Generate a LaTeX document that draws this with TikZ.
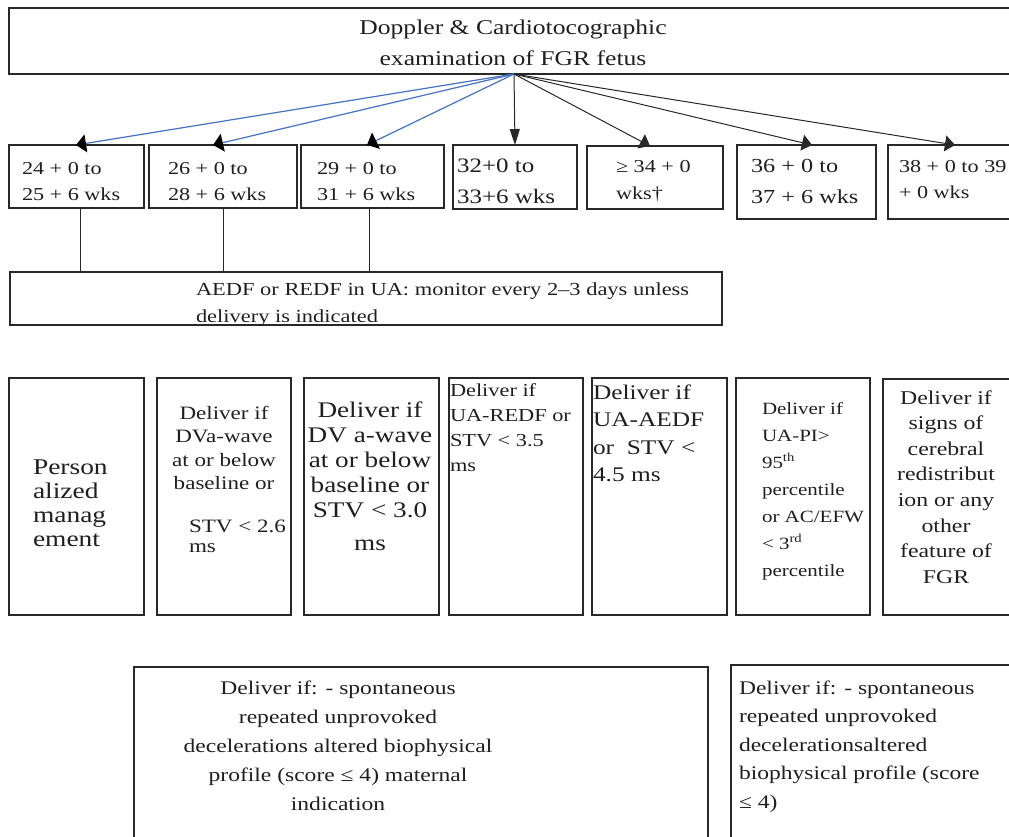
\documentclass[tikz,border=0pt]{standalone}
\usepackage{fontspec}
\setmainfont{Liberation Serif}[FakeStretch=1.22]
\usetikzlibrary{arrows.meta}
\definecolor{lnblue}{RGB}{68,114,196}
\definecolor{bord}{RGB}{40,40,40}
\newcommand\fl[1]{\rule{0pt}{#1pt}}
\begin{document}
\begin{tikzpicture}[x=1pt,y=-1pt,
  box/.style={draw=bord, line width=1.1pt, inner sep=0pt, outer sep=0pt, anchor=north west},
  tx/.style={inner sep=0pt, outer sep=0pt, text=black!88},
  fs/.style 2 args={font=\fontsize{#1pt}{#2pt}\selectfont},
  conn/.style={draw=bord, line width=1pt},
  arrK/.style={draw=bord, line width=1pt, -{Triangle[length=10pt,width=16pt]}},
  arrV/.style={draw=bord, line width=1pt, -{Triangle[length=16pt,width=10pt]}},
  arrB/.style={draw=lnblue, line width=1.2pt, -{Triangle[length=10pt,width=18pt,color=black]}}]
\useasboundingbox (0,0) rectangle (1009,836);
% boxes
\node[box, minimum width=1005pt, minimum height=66pt] (top) at (9,8) {};
\node[box, minimum width=135pt, minimum height=63pt] (b1) at (9,145) {};
\node[box, minimum width=148pt, minimum height=63pt] (b2) at (149,145) {};
\node[box, minimum width=143pt, minimum height=63pt] (b3) at (301,145) {};
\node[box, minimum width=124pt, minimum height=64pt] (b4) at (453,145) {};
\node[box, minimum width=136pt, minimum height=63pt] (b5) at (587,146) {};
\node[box, minimum width=139pt, minimum height=74pt] (b6) at (737,145) {};
\node[box, minimum width=126pt, minimum height=74pt] (b7) at (888,145) {};
\node[box, minimum width=712pt, minimum height=53pt] (aedf) at (10,272) {};
\node[box, minimum width=135pt, minimum height=237pt] (rA) at (9,378) {};
\node[box, minimum width=134pt, minimum height=237pt] (rB) at (157,378) {};
\node[box, minimum width=135pt, minimum height=237pt] (rC) at (304,378) {};
\node[box, minimum width=134pt, minimum height=237pt] (rD) at (449,378) {};
\node[box, minimum width=135pt, minimum height=237pt] (rE) at (592,378) {};
\node[box, minimum width=134pt, minimum height=237pt] (rF) at (736,378) {};
\node[box, minimum width=131pt, minimum height=236pt] (rG) at (883,379) {};
\node[box, minimum width=574pt, minimum height=180pt] (bP) at (134,667) {};
\node[box, minimum width=283pt, minimum height=182pt] (bQ) at (731,665) {};
% texts
\node[tx, fs={21}{31.5}, align=center, anchor=north] (tTop) at (513,17.2)
  {\fl{17}Doppler \& Cardiotocographic\\examination of FGR fetus};
\node[tx, fs={18.2}{26}, align=left, anchor=north west] (t1) at (22,159.4) {\fl{14.6}24 + 0 to\\25 + 6 wks};
\node[tx, fs={18.2}{26}, align=left, anchor=north west] (t2) at (168,159.4) {\fl{14.6}26 + 0 to\\28 + 6 wks};
\node[tx, fs={18.2}{26}, align=left, anchor=north west] (t3) at (317,159.4) {\fl{14.6}29 + 0 to\\31 + 6 wks};
\node[tx, fs={20.5}{31}, align=left, anchor=north west] (t4) at (457,155.6) {\fl{16.4}32+0 to\\33+6 wks};
\node[tx, fs={18.2}{27}, align=left, anchor=north west] (t5) at (616,157.4) {\fl{14.6}≥ 34 + 0\\wks†};
\node[tx, fs={19.9}{31}, align=left, anchor=north west] (t6) at (751,156.1) {\fl{15.9}36 + 0 to\\37 + 6 wks};
\node[tx, fs={18.2}{26}, align=left, anchor=north west] (t7) at (899,157.4) {\fl{14.6}38 + 0 to 39\\+ 0 wks};
\node[tx, fs={18.4}{27}, align=left, anchor=north west] (tAedf) at (196,280.3)
  {\fl{14.7}AEDF or REDF in UA: monitor every 2–3 days unless\\delivery is indicated};
\node[tx, fs={22.5}{24}, align=left, anchor=north west] (tA) at (33,456) {\fl{18}Person\\alized\\manag\\ement};
\node[tx, fs={18.9}{23.5}, align=center, anchor=north] (tB) at (224,403.9) {\fl{15.1}Deliver if\\DVa-wave\\at or below\\baseline or};
\node[tx, fs={18.9}{20}, align=left, anchor=north west] (tB2) at (189,516.9) {\fl{15.1}STV < 2.6\\ms};
\node[tx, fs={22.3}{25}, align=center, anchor=north] (tC) at (370,399.2)
  {\fl{17.8}Deliver if\\DV a-wave\\at or below\\baseline or\\STV < 3.0\\[8pt]ms};
\node[tx, fs={18.3}{25}, align=left, anchor=north west] (tD) at (450,381.4) {\fl{14.6}Deliver if\\UA-REDF or\\STV < 3.5\\ms};
\node[tx, fs={20.8}{27.5}, align=left, anchor=north west] (tE) at (593,382.4) {\fl{16.6}Deliver if\\UA-AEDF\\or\ \ STV <\\4.5 ms};
\node[tx, fs={17.2}{27}, align=left, anchor=north west] (tF) at (762,400.2)
  {\fl{13.8}Deliver if\\UA-PI>\\95\textsuperscript{th}\\percentile\\or AC/EFW\\< 3\textsuperscript{rd}\\percentile};
\node[tx, fs={19.5}{25.6}, align=center, anchor=north] (tG) at (946,388.4)
  {\fl{15.6}Deliver if\\signs of\\cerebral\\redistribut\\ion or any\\other\\feature of\\FGR};
\node[tx, fs={19.3}{29}, align=center, anchor=north] (tP) at (338,678.6)
  {\fl{15.4}Deliver if: - spontaneous\\repeated unprovoked\\decelerations altered biophysical\\profile (score ≤ 4) maternal\\indication};
\node[tx, fs={19.3}{28.5}, align=left, anchor=north west] (tQ) at (739,678.6)
  {\fl{15.4}Deliver if: - spontaneous\\repeated unprovoked\\decelerationsaltered\\biophysical profile (score\\≤ 4)};
% connectors
\coordinate (src) at (514,74);
\draw[arrB] (src) -- ([xshift=-0.5pt]b1.north);
\draw[arrB] (src) -- ([xshift=-10pt]b2.north);
\draw[arrB] (src) -- ([xshift=-5.5pt]b3.north);
\draw[arrV] (src) -- (b4.north);
\draw[arrK] (src) -- ([xshift=-5pt]b5.north);
\draw[arrK] (src) -- ([xshift=5.5pt]b6.north);
\draw[arrK] (src) -- ([xshift=4pt]b7.north);
\draw[conn] ([xshift=3.5pt]b1.south) -- ([xshift=3.5pt]b1.south |- aedf.north);
\draw[conn] (b2.south) -- (b2.south |- aedf.north);
\draw[conn] ([xshift=-3.5pt]b3.south) -- ([xshift=-3.5pt]b3.south |- aedf.north);
\end{tikzpicture}
\end{document}
